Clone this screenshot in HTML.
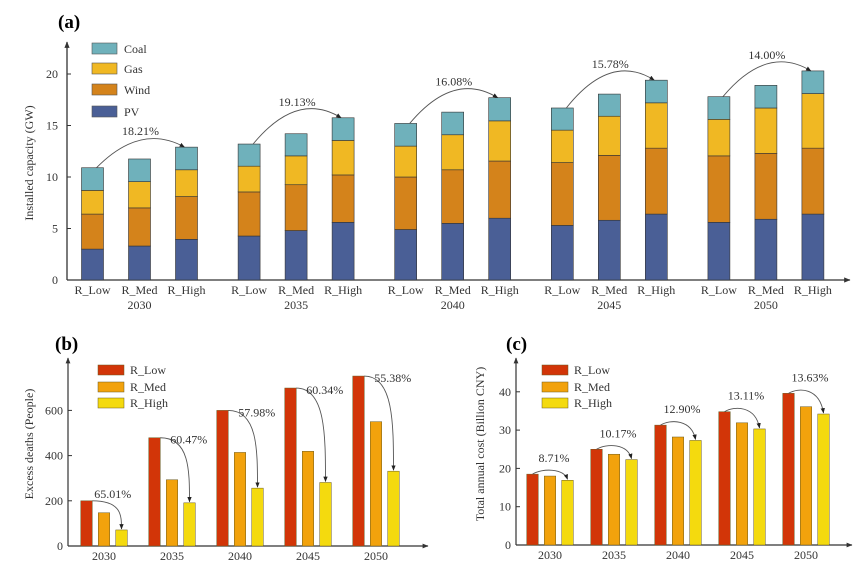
<!DOCTYPE html>
<html><head><meta charset="utf-8"><style>
body{margin:0;background:#fff;}
svg{display:block;font-family:"Liberation Serif",serif;}
</style></head><body>
<svg id="chart" width="864" height="563" viewBox="0 0 864 563" xmlns="http://www.w3.org/2000/svg">
<defs>
<marker id="arr" viewBox="0 0 10 10" refX="9" refY="5" markerWidth="6" markerHeight="6" orient="auto"><path d="M0,1 L10,5 L0,9 z" fill="#222"/></marker>
<marker id="ax" viewBox="0 0 10 10" refX="9" refY="5" markerWidth="5" markerHeight="5" orient="auto"><path d="M0,1 L10,5 L0,9 z" fill="#333"/></marker>
</defs>
<g id="pa"></g>
<g id="pb"></g>
<g id="pc"></g>
</svg>
<script>
// Panel (a) data
const years = ["2030","2035","2040","2045","2050"];
const scenarios = ["R_Low","R_Med","R_High"];
const techs = ["PV","Wind","Gas","Coal"];
const pvVals   = [3.0,3.3,3.95, 4.27,4.8,5.6, 4.9,5.5,6.0, 5.3,5.8,6.4, 5.6,5.9,6.4];
const windVals = [3.4,3.7,4.15, 4.28,4.45,4.6, 5.1,5.2,5.55, 6.1,6.3,6.4, 6.45,6.4,6.4];
const gasVals  = [2.3,2.55,2.6, 2.5,2.8,3.35, 3.0,3.4,3.9, 3.15,3.8,4.4, 3.55,4.4,5.3];
const coalVals = [2.2,2.2,2.2, 2.15,2.15,2.2, 2.2,2.2,2.25, 2.15,2.15,2.2, 2.2,2.2,2.2];
const growthA  = ["18.21%","19.13%","16.08%","15.78%","14.00%"];
const yTicksA  = [0,5,10,15,20];
// Panel (b) data
const deathsLow  = [200,479,600,699,752];
const deathsMed  = [147,293,414,419,550];
const deathsHigh = [71,191,256,281,331];
const growthB    = ["65.01%","60.47%","57.98%","60.34%","55.38%"];
const yTicksB    = [0,200,400,600];
// Panel (c) data
const costLow  = [18.5,25.0,31.3,34.8,39.6];
const costMed  = [18.0,23.7,28.2,31.9,36.1];
const costHigh = [16.9,22.3,27.3,30.3,34.2];
const growthC  = ["8.71%","10.17%","12.90%","13.11%","13.63%"];
const yTicksC  = [0,10,20,30,40];

const NS="http://www.w3.org/2000/svg";
function mk(parent,tag,attrs,text){const e=document.createElementNS(NS,tag);for(const k in attrs)e.setAttribute(k,attrs[k]);if(text!==undefined)e.textContent=text;parent.appendChild(e);return e;}

// ---------- Panel A ----------
(function(){
const g=document.getElementById('pa');
const yA=v=>280-v*10.3;
const xA=(gi,si)=>92.5+gi*156.6+si*47;
const colors={PV:"#4a5f96",Wind:"#d4831b",Gas:"#f0b823",Coal:"#6fb1bb"};
const series={PV:pvVals,Wind:windVals,Gas:gasVals,Coal:coalVals};
let t=mk(g,'text',{x:58,y:28,'font-size':19,'font-weight':'bold'},'(a)');


let ax=mk(g,'line',{x1:67,y1:280,x2:67,y2:42,stroke:'#333','stroke-width':1.3,'marker-end':'url(#ax)'});


ax=mk(g,'line',{x1:67,y1:280,x2:850,y2:280,stroke:'#333','stroke-width':1.3,'marker-end':'url(#ax)'});


yTicksA.forEach(v=>{
  const l=mk(g,'line',{x1:67,y1:yA(v),x2:71,y2:yA(v),stroke:'#333'});
  
  
  const tx=mk(g,'text',{x:58,y:yA(v)+4,'font-size':12,'text-anchor':'end',fill:'#333'},String(v));
  
  
});
t=mk(g,'text',{x:0,y:0,'font-size':12,'text-anchor':'middle',fill:'#333',transform:'translate(33,163) rotate(-90)'},'Installed capacity (GW)');


years.forEach((yr,gi)=>{
  scenarios.forEach((sc,si)=>{
    const i=gi*3+si;let base=0;const cx=xA(gi,si);
    techs.forEach(tc=>{
      const v=series[tc][i];
      const r=mk(g,'rect',{x:cx-11,y:yA(base+v),width:22,height:yA(base)-yA(base+v),fill:colors[tc],stroke:'#333','stroke-width':0.6});
      
      
      base+=v;
    });
    const lb=mk(g,'text',{x:cx,y:294,'font-size':12,'text-anchor':'middle',fill:'#333'},sc);
    
    
  });
  const yl=mk(g,'text',{x:xA(gi,1),y:309,'font-size':12,'text-anchor':'middle',fill:'#333'},yr);
  
  
  // arc
  const tot=i=>pvVals[i]+windVals[i]+gasVals[i]+coalVals[i];
  const y0=yA(tot(gi*3)),y1=yA(tot(gi*3+2));
  const x0=xA(gi,0)+4,x1=xA(gi,2)-2;
  const peak=Math.min(y0,y1)-7;
  const cy=2*peak-(y0+y1)/2;
  const p=mk(g,'path',{d:`M${x0},${y0} Q${(x0+x1)/2},${cy} ${x1},${y1}`,fill:'none',stroke:'#555','stroke-width':0.9,'marker-end':'url(#arr)'});
  
  
  const gl=mk(g,'text',{x:(x0+x1)/2,y:peak-5,'font-size':12,'text-anchor':'middle',fill:'#333'},growthA[gi]);
  
  
});
const leg=[["Coal",43],["Gas",63],["Wind",84],["PV",106]];
leg.forEach(([n,y])=>{
  const r=mk(g,'rect',{x:92,y:y,width:25,height:11,fill:colors[n],stroke:'#555','stroke-width':0.6});
  
  
  const tx=mk(g,'text',{x:124,y:y+10,'font-size':12,fill:'#333'},n);
  
  
});
})();

// ---------- grouped bar panels ----------
function grouped(gid,label,labelX,ox,zeroY,pxPer,topY,xEnd,c0,step,ticks,low,med,high,growth,title,titleX,legX,style){
const g=document.getElementById(gid);
const y=v=>zeroY-v*pxPer;
const x=(gi,si)=>c0+gi*step+(si-1)*17.5;
let t=mk(g,'text',{x:labelX,y:350,'font-size':19,'font-weight':'bold'},label);


let a=mk(g,'line',{x1:ox,y1:zeroY,x2:ox,y2:topY,stroke:'#333','stroke-width':1.2,'marker-end':'url(#ax)'});


a=mk(g,'line',{x1:ox,y1:zeroY,x2:xEnd,y2:zeroY,stroke:'#333','stroke-width':1.2,'marker-end':'url(#ax)'});


ticks.forEach(v=>{
  const l=mk(g,'line',{x1:ox,y1:y(v),x2:ox+4,y2:y(v),stroke:'#333'});
  
  
  const tx=mk(g,'text',{x:ox-5,y:y(v)+4,'font-size':12,'text-anchor':'end',fill:'#333'},String(v));
  
  
});
t=mk(g,'text',{x:0,y:0,'font-size':12,'text-anchor':'middle',fill:'#333',transform:`translate(${titleX},444) rotate(-90)`},title);


const cols=["#d23508","#f2a20c","#f4da0e"];
const sers=[low,med,high];
years.forEach((yr,gi)=>{
  sers.forEach((s,si)=>{
    const cx=x(gi,si);
    const r=mk(g,'rect',{x:cx-5.75,y:y(s[gi]),width:11.5,height:zeroY-y(s[gi]),fill:cols[si],stroke:'#6a5a20','stroke-width':0.5});
    
    
  });
  const yl=mk(g,'text',{x:x(gi,1),y:zeroY+14,'font-size':12,'text-anchor':'middle',fill:'#333'},yr);
  
  
  const y0=y(low[gi]),y1=y(high[gi]);
  let d,lx,ly,anchor='start';
  if(style==='b'){
    const x0=x(gi,0)+5.75,x1=x(gi,2);
    d=`M${x0},${y0} C${x1},${y0} ${x1},${(y0+y1)/2} ${x1},${y1-1}`;
    lx=x0+(gi===0?2:10);ly=y0+(gi===0?-3:6);
  }else{
    const x0=x(gi,0),x1=x(gi,2);
    const peak=Math.min(y0,y1)-3;
    d=`M${x0},${y0} C${x0+10},${peak-3} ${x1-4},${peak-3} ${x1},${y1-1}`;
    lx=(x0+x1)/2+4;ly=peak-9;anchor='middle';
  }
  const p=mk(g,'path',{d:d,fill:'none',stroke:'#555','stroke-width':0.9,'marker-end':'url(#arr)'});
  
  
  const gl=mk(g,'text',{x:lx,y:ly,'font-size':12,'text-anchor':anchor,fill:'#333'},growth[gi]);
  
  
});
[["R_Low",365],["R_Med",382],["R_High",398]].forEach(([n,yy],i)=>{
  const r=mk(g,'rect',{x:legX,y:yy,width:26,height:10,fill:cols[i],stroke:'#6a5a20','stroke-width':0.5});
  
  
  const tx=mk(g,'text',{x:legX+32,y:yy+9,'font-size':12,fill:'#333'},n);
  
  
});
}
grouped('pb','(b)',55,68,546,0.226,358,428,104,68,yTicksB,deathsLow,deathsMed,deathsHigh,growthB,'Excess deaths (People)',33,98,'b');
grouped('pc','(c)',506,516,545,3.83,358,852,550,64,yTicksC,costLow,costMed,costHigh,growthC,'Total annual cost (Billion CNY)',484,542,'c');
</script>
</body></html>
